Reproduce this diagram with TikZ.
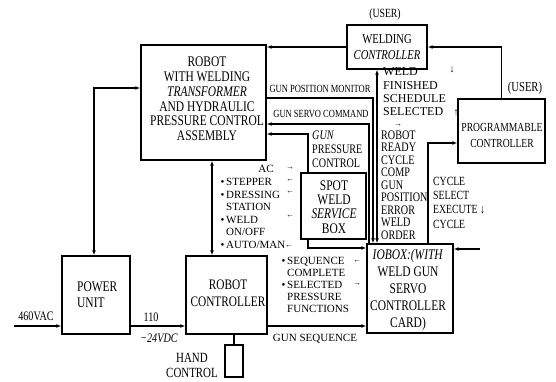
\documentclass[tikz,border=0pt]{standalone}
\usepackage{fontspec}
\setmainfont{Liberation Serif}
\newfontfamily\cond{Liberation Serif}[FakeStretch=0.78]
\usetikzlibrary{arrows.meta}
\newcommand\szBox{\fontsize{14.7}{14.8}\selectfont}
\newcommand\szLbl{\fontsize{10.9}{12}\selectfont}
\begin{document}
\begin{tikzpicture}[x=1pt,y=-1pt,
  blk/.style={draw,line width=1.3pt,inner sep=0pt},
  ln/.style={line width=1.3pt},
  arr/.style={ln,-{Latex[length=5pt,width=3.8pt]}},
  barr/.style={ln,{Latex[length=5pt,width=3.8pt]}-{Latex[length=5pt,width=3.8pt]}},
  txt/.style={inner sep=0pt,align=center},
  ltxt/.style={inner sep=0pt,align=left,anchor=west},
  sarr/.style={inner sep=0pt,font=\fontsize{8}{8}\selectfont},
]
\useasboundingbox (0,0) rectangle (556,382);
% boxes
\node[blk,minimum width=125pt,minimum height=115pt] (robot) at (203.5,102.5) {};
\node[blk,minimum width=68pt,minimum height=78pt] (power) at (96,295) {};
\node[blk,minimum width=81pt,minimum height=78pt] (rc) at (226.5,295) {};
\node[blk,minimum width=18pt,minimum height=32pt] (hand) at (234,361) {};
\node[blk,minimum width=80pt,minimum height=44pt] (wc) at (387,47) {};
\node[blk,minimum width=87pt,minimum height=64pt] (pc) at (501.5,131) {};
\node[blk,minimum width=86pt,minimum height=89pt] (io) at (410,288.5) {};
\node[blk,minimum width=65pt,minimum height=66pt] (spot) at (333.5,206) {};
% box texts
\node[txt,font=\cond\szBox] (robottxt) at (207,99) {ROBOT\\WITH WELDING\\\textit{TRANSFORMER}\\AND HYDRAULIC\\PRESSURE CONTROL\\ASSEMBLY};
\node[ltxt,font=\cond\fontsize{14.7}{16}\selectfont] (powertxt) at (77,295) {POWER\\UNIT};
\node[txt,font=\cond\fontsize{14.5}{17}\selectfont] (rctxt) at (228,293.5) {ROBOT\\CONTROLLER};
\node[txt,font=\cond\fontsize{14}{15}\selectfont] (handtxt) at (192,365) {HAND\\CONTROL};
\node[txt,font=\cond\fontsize{13.6}{16}\selectfont] (wctxt) at (387,47) {WELDING\\\textit{CONTROLLER}};
\node[txt,font=\cond\fontsize{12.5}{12}\selectfont] (user1) at (385,14) {(USER)};
\node[txt,font=\cond\fontsize{12.3}{16}\selectfont] (pctxt) at (502,135) {PROGRAMMABLE\\CONTROLLER};
\node[txt,font=\cond\fontsize{13.6}{12}\selectfont] (user2) at (525,88) {(USER)};
\node[txt,font=\cond\fontsize{14.7}{17}\selectfont] (iotxt) at (408,289.5) {\textit{IOBOX:(WITH}\\WELD GUN\\SERVO\\CONTROLLER\\CARD)};
\node[txt,font=\cond\fontsize{14.7}{14.2}\selectfont] (spottxt) at (334,207) {SPOT\\WELD\\\textit{SERVICE}\\BOX};
% connectors
\coordinate (pA) at (94,88);
\draw[barr] (power.north -| pA) |- (robot.west |- pA);
\coordinate (vin) at (14,326);
\draw[arr] (vin) -- (power.west |- vin);
\coordinate (pB) at (0,326);
\draw[arr] (power.east |- pB) -- (rc.west |- pB);
\coordinate (pC) at (212,0);
\draw[barr] (robot.south -| pC) -- (rc.north -| pC);
\draw[ln] (rc.south -| hand.north) -- (hand.north);
\draw[arr] (wc.west) -- (robot.east |- wc.west);
\draw[arr] (pc.north) |- (wc.east);
\coordinate (pD) at (377,0);
\draw[barr] (io.north -| pD) -- (wc.south -| pD);
\coordinate (pE) at (373,98);
\draw[arr] (robot.east |- pE) -| (io.north -| pE);
\coordinate (pF) at (369,124);
\draw[arr] (io.north -| pF) |- (robot.east |- pF);
\coordinate (pG) at (308,134);
\draw[arr] (spot.north -| pG) |- (robot.east |- pG);
\coordinate (pH) at (308,248);
\draw[arr] (spot.south -| pH) |- (io.west |- pH);
\coordinate (pI) at (428,143);
\draw[arr] (io.north -| pI) |- (pc.west |- pI);
\coordinate (vout) at (480,249);
\draw[arr] (vout) -- (io.east |- vout);
\draw[arr] (rc.east |- pB) -- (io.west |- pB);
% labels
\node[txt,font=\cond\fontsize{13}{12}\selectfont] (l460) at (36,316) {460VAC};
\node[txt,font=\cond\fontsize{13}{12}\selectfont] (l110) at (151,317) {110};
\node[txt,font=\cond\fontsize{13}{12}\selectfont] (l24) at (159,338) {\textit{−24VDC}};
\node[txt,font=\cond\szLbl] (lgpm) at (320,89) {GUN POSITION MONITOR};
\node[txt,font=\cond\szLbl] (lgsc) at (321,114) {GUN SERVO COMMAND};
\node[ltxt,font=\cond\fontsize{13}{14}\selectfont] (lgpc) at (312,149) {\textit{GUN}\\PRESSURE\\CONTROL};
\node[ltxt,font=\fontsize{12}{13.4}\selectfont] (lweld) at (383,92) {WELD\\FINISHED\\SCHEDULE\\SELECTED};
\node[sarr,font=\fontsize{10}{10}\selectfont] (ad1) at (452,70) {↓};
\node[sarr,font=\fontsize{10}{10}\selectfont] (au1) at (456,113) {↑};
\node[sarr] (ar1) at (398,125) {→};
\node[ltxt,font=\cond\fontsize{13}{12.5}\selectfont] (lready) at (381,185) {ROBOT\\READY\\CYCLE\\COMP\\GUN\\POSITION\\ERROR\\WELD\\ORDER};
\node[ltxt,font=\cond\fontsize{12.5}{14.3}\selectfont] (lcycle) at (433,202.5) {CYCLE\\SELECT\\EXECUTE ↓\\CYCLE};
\node[txt,font=\fontsize{11}{12}\selectfont] (lac) at (266,169) {AC};
\node[ltxt,font=\fontsize{11}{12.6}\selectfont] (lstep) at (226,213.5) {\llap{•\,}STEPPER\\\llap{•\,}DRESSING\\STATION\\\llap{•\,}WELD\\ON/OFF\\\llap{•\,}AUTO/MAN};
\node[sarr] (a1) at (290,168) {→};
\node[sarr] (a2) at (290,180) {←};
\node[sarr] (a3) at (290,192) {←};
\node[sarr] (a4) at (290,216) {←};
\node[sarr] (a5) at (289,246) {←};
\node[ltxt,font=\fontsize{11}{11.8}\selectfont] (lseq) at (287,285) {\llap{•\,}SEQUENCE\\COMPLETE\\\llap{•\,}SELECTED\\PRESSURE\\FUNCTIONS};
\node[sarr] (a6) at (357,261) {←};
\node[sarr] (a7) at (357,284) {→};
\node[txt,font=\fontsize{11}{12}\selectfont] (lgs) at (315,339) {GUN SEQUENCE};
\end{tikzpicture}
\end{document}
